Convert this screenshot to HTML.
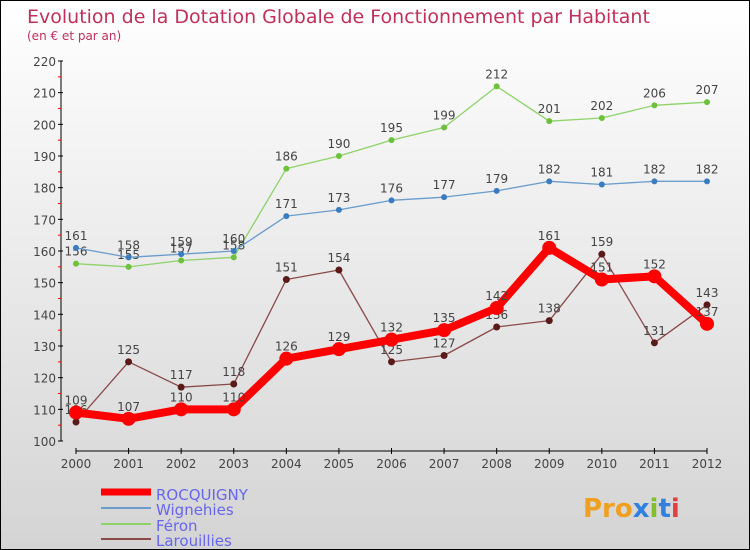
<!DOCTYPE html>
<html><head><meta charset="utf-8"><style>
body{margin:0}
#c{width:750px;height:550px;position:relative;overflow:hidden;background:linear-gradient(#ffffff,#d4d4d4);box-sizing:border-box;border:1px solid #000;font-family:"DejaVu Sans","Liberation Sans",sans-serif}
</style></head><body>
<div id="c">
<svg id="s" width="750" height="550" style="position:absolute;left:0;top:0">
<text x="26" y="22" font-size="19" fill="#c0305a">Evolution de la Dotation Globale de Fonctionnement par Habitant</text>
<text x="26" y="39" font-size="12" fill="#c0305a">(en € et par an)</text>
<g id="axes"></g><g id="series"></g>
<g>
<line x1="100" y1="491" x2="150" y2="491" stroke="#f00" stroke-width="7"/>
<text x="155" y="499" font-size="15" fill="#6666ee">ROCQUIGNY</text>
<line x1="100" y1="507" x2="150" y2="507" stroke="#6a9ccc" stroke-width="2"/>
<text x="155" y="514" font-size="15" fill="#6666ee">Wignehies</text>
<line x1="100" y1="523" x2="150" y2="523" stroke="#8ed36a" stroke-width="2"/>
<text x="155" y="530" font-size="15" fill="#6666ee">Féron</text>
<line x1="100" y1="538" x2="150" y2="538" stroke="#8a4a4a" stroke-width="2"/>
<text x="155" y="545" font-size="15" fill="#6666ee">Larouillies</text>
</g>
<text x="582" y="516" font-size="26" font-weight="bold" fill="#f0a020">Pro<tspan fill="#3080e0">x</tspan><tspan fill="#80c030">i</tspan><tspan fill="#3080e0">t</tspan><tspan fill="#e04040">i</tspan></text>
</svg>
</div>
<script>
const years=[2000,2001,2002,2003,2004,2005,2006,2007,2008,2009,2010,2011,2012];
const rocquigny=[109,107,110,110,126,129,132,135,142,161,151,152,137];
const wignehies=[161,158,159,160,171,173,176,177,179,182,181,182,182];
const feron=[156,155,157,158,186,190,195,199,212,201,202,206,207];
const larouillies=[106,125,117,118,151,154,125,127,136,138,159,131,143];
const yTicks=[100,110,120,130,140,150,160,170,180,190,200,210,220];
const NS="http://www.w3.org/2000/svg";
const X=i=>75+i*(706-75)/(years.length-1);
const Y=v=>440-(v-100)*380/120;
function mk(t,a,p){const e=document.createElementNS(NS,t);for(const k in a)e.setAttribute(k,a[k]);p.appendChild(e);return e;}
const ax=document.getElementById('axes'),sg=document.getElementById('series');
let yl=mk('line',{x1:60,y1:Y(220),x2:60,y2:Y(100),stroke:'#000'},ax);


yTicks.forEach(v=>{
 mk('line',{x1:57,y1:Y(v),x2:62,y2:Y(v),stroke:'#000'},ax);
 if(v<220)mk('line',{x1:57,y1:Y(v+5),x2:60,y2:Y(v+5),stroke:'#f00'},ax);
 const t=mk('text',{x:55,y:Y(v)+5,'font-size':12,fill:'#444','text-anchor':'end'},ax);t.textContent=v;
 
 
});
let xl=mk('line',{x1:X(0),y1:450,x2:X(12),y2:450,stroke:'#000'},ax);


years.forEach((y,i)=>{
 mk('line',{x1:X(i),y1:447,x2:X(i),y2:453,stroke:'#000'},ax);
 const t=mk('text',{x:X(i),y:467,'font-size':12,fill:'#444','text-anchor':'middle'},ax);t.textContent=y;
 
 
});
function series(d,col,w,r,name,dot){
 const g=mk('g',{},sg);
 
 
 mk('polyline',{points:d.map((v,i)=>X(i)+','+Y(v)).join(' '),fill:'none',stroke:col,'stroke-width':w,'stroke-linejoin':'round'},g);
 d.forEach((v,i)=>{
  const c=mk('circle',{cx:X(i),cy:Y(v),r:r,fill:dot},g);
  
  
  const t=mk('text',{x:X(i),y:Y(v)-8,'font-size':12,fill:'#444','text-anchor':'middle'},g);t.textContent=v;
 });
}
series(feron,'#8ed36a',1.3,3,'feron','#6cc23a');
series(wignehies,'#6a9ccc',1.3,3,'wignehies','#3a7cc0');
series(larouillies,'#8a4a4a',1.3,3.5,'larouillies','#5a1a1a');
series(rocquigny,'#f00',8,7,'rocquigny','#f00');
</script>
</body></html>
